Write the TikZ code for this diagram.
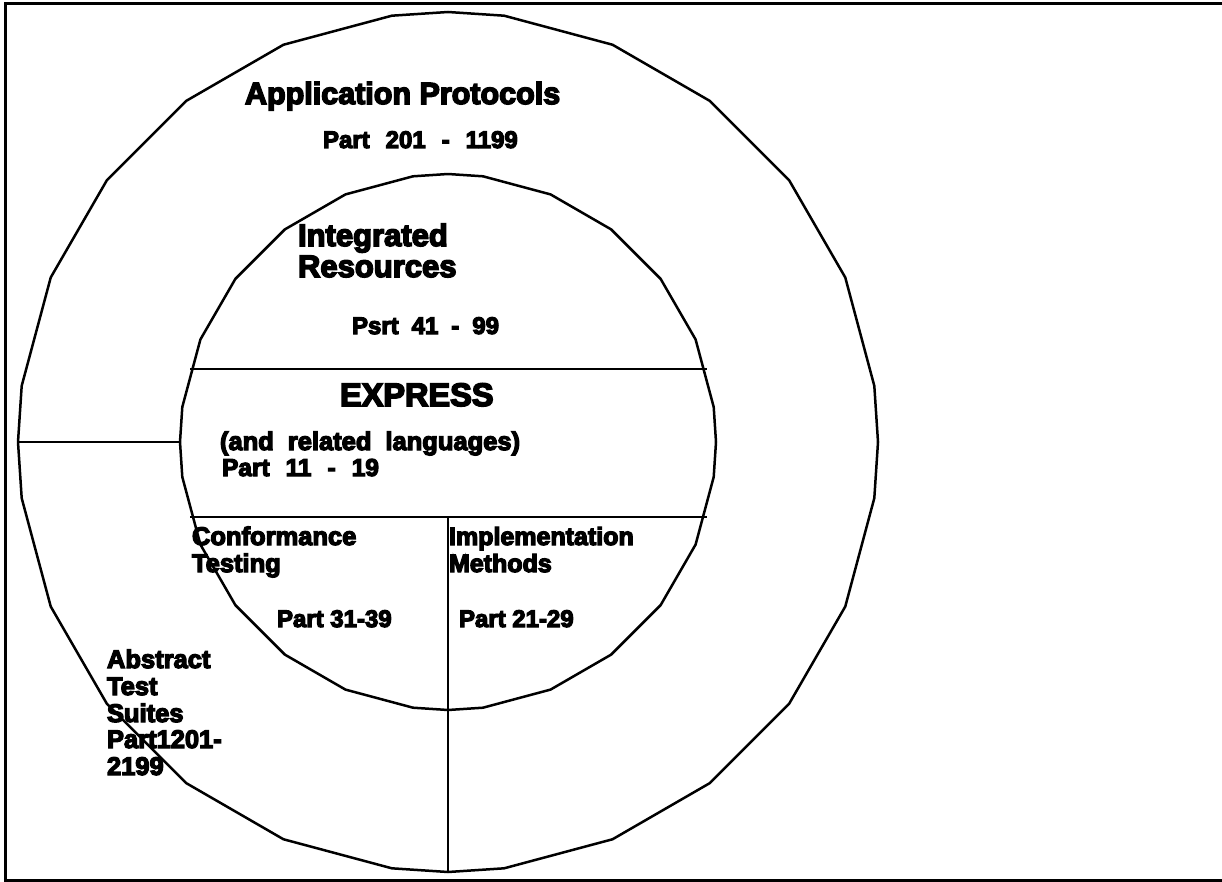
\documentclass[tikz,border=0pt]{standalone}
\usepackage{fontspec}
\newfontfamily\hv{Liberation Sans Bold}[FakeBold=5]
\newcommand{\fs}[1]{\hv\fontsize{#1}{#1}\selectfont}
\newcommand{\ws}[1]{\hspace{#1pt}}
\begin{document}
\begin{tikzpicture}[x=1pt,y=-1pt,
  poly/.style={line width=2.5pt, line join=round},
  sep/.style={line width=2.5pt},
  lbl/.style={anchor=base west, inner sep=0pt, outer sep=0pt, font=\fs{24}}]
\useasboundingbox (0,0) rectangle (1222,882);
% frame
\draw[line width=3pt] (1222,4) -- (5,4) -- (5,880) -- (1222,880);
% outer and inner polygons
\foreach \r/\n in {430/outer,268/inner}{
  \draw[poly] (448,{442-\r})
    \foreach \a in {7.5,22.5,37.5,52.5,67.5,82.5,90,97.5,112.5,127.5,142.5,157.5,172.5,180,187.5,202.5,217.5,232.5,247.5,262.5,270,277.5,292.5,307.5,322.5,337.5,352.5}{
      -- ({448+\r*sin(\a)},{442-\r*cos(\a)}) } -- cycle;
}
\coordinate (oL) at (18,442);
\coordinate (iL) at (180,442);
\coordinate (oB) at (448,872);
\coordinate (h1a) at (190,369);
\coordinate (h1b) at (707,369);
\coordinate (h2a) at (190,517);
\coordinate (h2b) at (707,517);
\coordinate (vT) at (448,517);
\draw[sep] (h1a) -- (h1b);
\draw[sep] (h2a) -- (h2b);
\draw[sep] (vT) -- (oB);
\draw[sep] (oL) -- (iL);
% texts
\node[lbl, font=\fs{30.5}] (ap) at (245,104) {Application Protocols};
\node[lbl] (apn) at (323,148) {Part\ws{16}201\ws{16}-\ws{16}1199};
\node[lbl, font=\fs{31}] (ir1) at (298,246) {Integrated};
\node[lbl, font=\fs{31}] (ir2) at (298,277) {Resources};
\node[lbl] (irn) at (352,334) {Psrt\ws{13}41\ws{13}-\ws{13}99};
\node[lbl, font=\fs{32.5}] (ex) at (340,406) {EXPRESS};
\node[lbl, font=\fs{25.5}] (exl) at (220,450) {(and\ws{14}related\ws{14}languages)};
\node[lbl, font=\fs{24.5}] (exn) at (222,476) {Part\ws{16}11\ws{16}-\ws{16}19};
\node[lbl, font=\fs{25.5}] (ct1) at (192,545) {Conformance};
\node[lbl, font=\fs{25.5}] (ct2) at (192,572) {Testing};
\node[lbl, font=\fs{25}] (im1) at (449,545) {Implementation};
\node[lbl, font=\fs{25}] (im2) at (449,572) {Methods};
\node[lbl] (ctn) at (277,627) {Part 31-39};
\node[lbl] (imn) at (459,627) {Part 21-29};
\node[lbl, font=\fs{25.5}] (at1) at (107,668) {Abstract};
\node[lbl, font=\fs{25.5}] (at2) at (107,695) {Test};
\node[lbl, font=\fs{25.5}] (at3) at (107,722) {Suites};
\node[lbl, font=\fs{25.5}] (at4) at (107,748) {Part1201-};
\node[lbl, font=\fs{25.5}] (at5) at (107,775) {2199};
\end{tikzpicture}
\end{document}
